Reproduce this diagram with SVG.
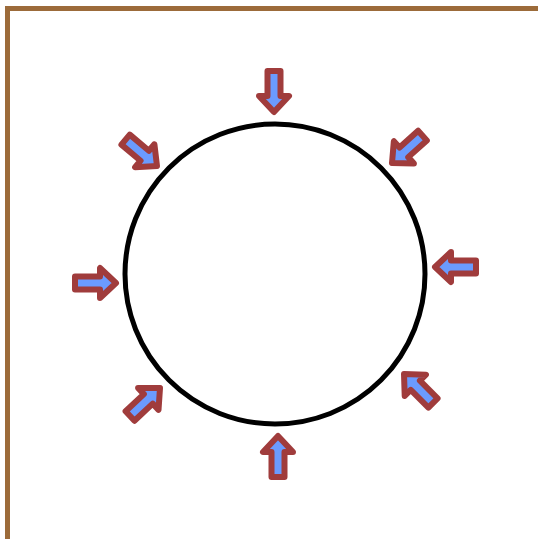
<svg xmlns="http://www.w3.org/2000/svg" xmlns:xlink="http://www.w3.org/1999/xlink" width="538" height="539" viewBox="0 0 538 539">
<style>
.arrow{fill:#6b9bff;stroke:#a03c3c;stroke-width:6;stroke-linejoin:round}
.frame{fill:none;stroke:#9c6b3a;stroke-width:5}
.circ{fill:none;stroke:#000;stroke-width:5}
</style>
<defs>
<path id="arr" class="arrow" d="M0,0 L-16,-15 L-16,-6.5 L-41,-6.5 L-41,6.5 L-16,6.5 L-16,15 Z"/>
</defs>
<rect width="538" height="539" fill="#fff"/>
<path class="frame" d="M7.5,539 L7.5,8.5 L538,8.5"/>
<g id="circle"><circle class="circ" cx="275" cy="274" r="150"/></g>
<g id="arrows">
<use xlink:href="#arr" transform="translate(274,112) rotate(90)"/>
<use xlink:href="#arr" transform="translate(278,436) rotate(-90)"/>
<use xlink:href="#arr" transform="translate(116,283)"/>
<use xlink:href="#arr" transform="translate(435,267) rotate(180)"/>
<use xlink:href="#arr" transform="translate(157,166) rotate(40)"/>
<use xlink:href="#arr" transform="translate(392,163) rotate(138)"/>
<use xlink:href="#arr" transform="translate(160,388) rotate(-43)"/>
<use xlink:href="#arr" transform="translate(404,374) rotate(225)"/>
</g>
</svg>
